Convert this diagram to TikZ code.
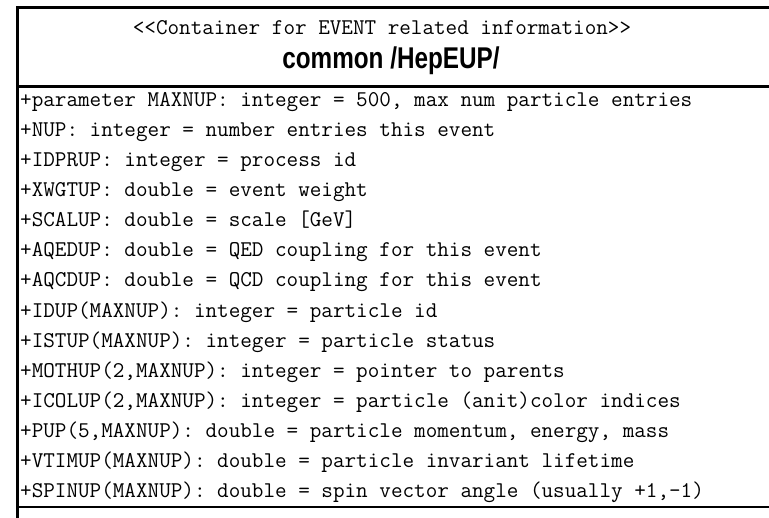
\documentclass[tikz,border=0pt]{standalone}
\usepackage{fontspec}
\newfontfamily\titlefont[FakeStretch=0.81]{Liberation Sans}
\tikzset{
  boxline/.style={line width=2.6bp, black},
  attr/.style={anchor=base west, inner sep=0pt, font=\ttfamily\fontsize{22.5bp}{26bp}\selectfont},
  stereo/.style={anchor=base, inner sep=0pt, font=\ttfamily\fontsize{22.5bp}{26bp}\selectfont},
  classname/.style={anchor=base, inner sep=0pt, font=\titlefont\bfseries\fontsize{30bp}{36bp}\selectfont}
}
\begin{document}
\begin{tikzpicture}[x=1bp,y=-1bp]
\useasboundingbox (0,0) rectangle (769,518);
% box frame (right side cut off by the picture edge)
\coordinate (tl) at (17.3,7.3);
\coordinate (tr) at (772,7.3);
\coordinate (ml) at (17.3,86.5);
\coordinate (mr) at (772,86.5);
\coordinate (bl) at (17.3,507);
\coordinate (br) at (772,507);
\coordinate (foot) at (17.3,520);
\draw[boxline] (tr) -- (tl) -- (foot);
\draw[boxline] (ml) -- (mr);
\draw[boxline] (bl) -- (br);
% header
\node[stereo] (st) at (382,35) {<{}<Container for EVENT related information>{}>};
\node[classname] (cn) at (391,68.5) {common /HepEUP/};
% attributes
\node[attr] (a1) at (20,107) {+parameter MAXNUP: integer = 500, max num particle entries};
\node[attr] (a2) at (20,137) {+NUP: integer = number entries this event};
\node[attr] (a3) at (20,167) {+IDPRUP: integer = process id};
\node[attr] (a4) at (20,197) {+XWGTUP: double = event weight};
\node[attr] (a5) at (20,227) {+SCALUP: double = scale [GeV]};
\node[attr] (a6) at (20,257) {+AQEDUP: double = QED coupling for this event};
\node[attr] (a7) at (20,287) {+AQCDUP: double = QCD coupling for this event};
\node[attr] (a8) at (20,317) {+IDUP(MAXNUP): integer = particle id};
\node[attr] (a9) at (20,347) {+ISTUP(MAXNUP): integer = particle status};
\node[attr] (a10) at (20,377) {+MOTHUP(2,MAXNUP): integer = pointer to parents};
\node[attr] (a11) at (20,407) {+ICOLUP(2,MAXNUP): integer = particle (anit)color indices};
\node[attr] (a12) at (20,437) {+PUP(5,MAXNUP): double = particle momentum, energy, mass};
\node[attr] (a13) at (20,467) {+VTIMUP(MAXNUP): double = particle invariant lifetime};
\node[attr] (a14) at (20,497) {+SPINUP(MAXNUP): double = spin vector angle (usually +1,-1)};
\end{tikzpicture}
\end{document}
